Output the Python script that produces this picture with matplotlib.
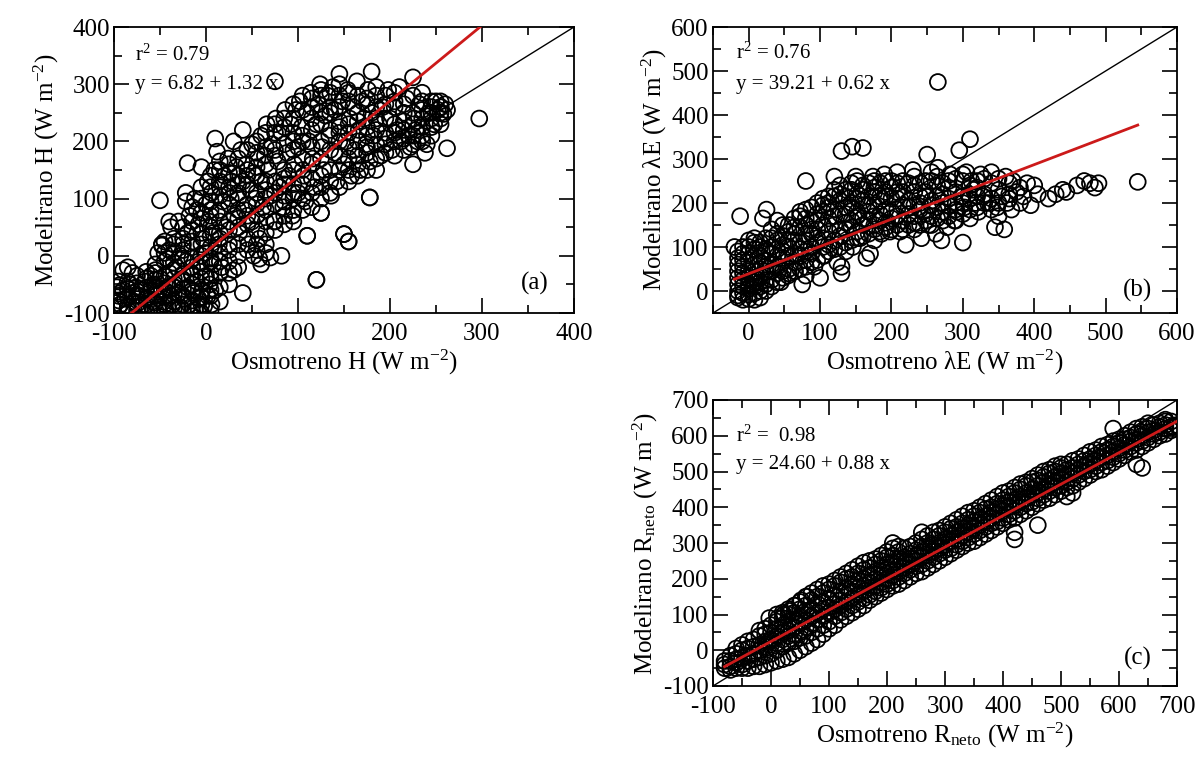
import matplotlib
matplotlib.use("Agg")
import matplotlib.pyplot as plt
from matplotlib.ticker import MultipleLocator

plt.rcParams['font.family'] = ['Liberation Serif', 'DejaVu Serif']
plt.rcParams['mathtext.fontset'] = 'custom'
plt.rcParams['mathtext.rm'] = 'Liberation Serif'
plt.rcParams['mathtext.it'] = 'Liberation Serif:italic'
plt.rcParams['mathtext.bf'] = 'Liberation Serif:bold'
plt.rcParams['axes.unicode_minus'] = False

# ---------------- Panel (a): sensible heat H ----------------
h_pts = [
 (-97,-55),(-95,-70),(-93,-85),(-90,-60),(-88,-75),(-85,-95),(-83,-50),(-80,-65),(-78,-80),(-76,-55),
 (-74,-90),(-72,-70),(-70,-60),(-68,-85),(-66,-45),(-64,-75),(-62,-95),(-60,-60),(-58,-80),(-56,-50),
 (-54,-70),(-52,-90),(-50,-40),(-48,-60),(-46,-80),(-44,-95),(-42,-55),(-40,-30),(-38,-70),(-36,-85),
 (-34,-50),(-32,-20),(-30,-65),(-28,-90),(-26,-40),(-24,-75),(-22,-10),(-20,-55),(-18,-85),(-16,-30),
 (-14,-65),(-12,-95),(-10,-45),(-8,-75),(-6,-20),(-4,-60),(-2,-88),(0,-35),(2,-70),(4,-50),(6,-85),
 (8,-15),(10,-60),(-85,-20),(-90,-25),(-80,-30),(-95,-45),(-60,-35),(-55,-25),(-52,5),(-48,18),
 (-45,25),(-40,10),(-42,-5),(-35,30),(-38,50),(-30,60),(-25,20),(-28,0),(-20,40),(-18,70),(-22,95),
 (-15,15),(-12,100),(-10,80),(-8,55),(-5,120),(-3,30),(0,90),(2,130),(-1,5),(3,60),(5,-10),(6,110),
 (8,40),(9,150),(12,75),(14,20),(15,120),(17,-20),(18,95),(20,140),(22,50),(24,170),(25,10),(27,100),
 (28,130),(30,-25),(31,70),(33,155),(35,110),(36,40),(38,185),(40,130),(40,-65),(42,80),(44,160),
 (46,20),(48,115),(50,195),(50,60),(52,145),(54,100),(56,170),(58,-5),(58,30),(60,210),(60,130),
 (62,85),(64,175),(65,5),(66,230),(68,150),(70,105),(70,-3),(72,195),(74,60),(75,305),(76,240),
 (78,165),(80,120),(82,0),(82,215),(84,85),(86,255),(88,180),(90,140),(92,230),(94,70),(95,200),
 (96,160),(98,255),(100,110),(100,190),(102,270),(104,225),(106,140),(108,95),(110,35),(110,250),
 (112,200),(114,285),(116,170),(118,120),(120,230),(120,-42),(122,265),(124,300),(125,75),(126,190),
 (128,150),(130,245),(132,280),(134,210),(136,105),(138,295),(140,180),(140,255),(142,130),(145,318),
 (145,225),(148,270),(150,38),(150,160),(152,200),(154,290),(155,25),(156,240),(158,140),(160,260),
 (162,185),(164,305),(166,220),(168,150),(170,270),(172,240),(174,195),(176,290),(178,102),(178,165),
 (180,322),(180,250),(182,210),(185,280),(188,230),(190,175),(192,260),(195,205),(198,290),(200,240),
 (202,185),(205,270),(208,220),(210,295),(212,200),(215,250),(218,275),(220,210),(222,190),(225,160),
 (225,312),(226,240),(228,220),(230,200),(232,265),(235,285),(238,180),(240,195),(242,250),(245,270),
 (248,230),(250,270),(252,255),(255,260),(258,248),(260,265),(262,188),(262,255),(297,240),
 (-50,97),(-20,162),(10,205),(12,182),(-5,155),(-22,110),(40,220),(30,200),(-40,60),(-48,20),
 (52,0),(55,10),(60,-15),(65,20),(110,35),(150,38),(155,25),(120,-42),(178,102),(125,75),
]
# dense interior of the H cloud, read column by column (observed x: list of modelled y)
h_cols = {
 -95: [-90,-78,-66,-52], -85: [-100,-88,-72,-58,-45], -75: [-96,-84,-70,-62,-48,-35],
 -65: [-98,-86,-74,-56,-40,-28], -55: [-95,-82,-68,-55,-42,-30,-15],
 -45: [-98,-85,-72,-60,-48,-35,-10,5], -35: [-92,-80,-68,-55,-40,-25,-12,5,20],
 -25: [-95,-85,-70,-58,-45,-32,-5,10,30,50],
 -15: [-98,-88,-78,-60,-50,-35,-20,-5,25,45,60,85],
 -5: [-100,-85,-72,-62,-40,-28,-12,0,20,40,65,75,100],
 5: [-95,-70,-60,-40,-30,-5,15,35,50,70,80,95,120,140],
 15: [-80,-55,-30,-10,5,30,40,60,80,105,130,150,165],
 25: [-50,-30,-10,20,45,60,90,110,120,145,160],
 35: [-20,0,20,50,65,80,100,125,140,170], 45: [10,30,55,70,90,125,140,150,185],
 55: [20,45,70,90,110,140,155,180,200], 65: [40,60,80,100,115,130,160,190,215],
 75: [45,60,90,110,130,175,185,215,230], 85: [55,70,95,105,125,135,150,195,225,240],
 95: [60,80,100,110,125,150,185,215,240,265], 105: [80,100,125,150,170,200,210,255,280],
 115: [85,110,135,160,190,220,240,260,275], 125: [100,120,140,170,200,230,250,280,290],
 135: [110,130,150,185,220,250,260,285], 145: [120,150,175,200,215,235,260,280,300],
 155: [130,150,170,190,215,230,270,285], 165: [140,160,175,200,235,250,280],
 175: [150,180,190,210,225,265,275], 185: [150,170,195,220,240,260,295],
 195: [180,195,215,240,265,280], 205: [175,200,215,230,260,285], 215: [185,205,220,235,265],
 225: [195,210,230,250,280], 235: [200,210,225,240,255,270], 245: [210,225,240,250,260],
 255: [230,240,250,260,270],
}
H_obs = [p[0] for p in h_pts] + [x for x, ys in h_cols.items() for _ in ys]
H_mod = [p[1] for p in h_pts] + [y for x, ys in h_cols.items() for y in ys]

# ---------------- Panel (b): latent heat lambda E ----------------
le_pts = [
 (-12,170),(20,165),(25,185),(80,250),(120,260),(130,318),(145,328),(160,325),(250,310),(265,475),
 (295,320),(310,345),(300,110),(270,115),(345,145),(358,140),(100,30),(130,40),(130,55),(75,15),
 (165,75),(170,85),(-20,100),(-15,-10),(220,105),(242,120),(262,130),(150,260),(174,260),(190,265),
 (208,270),(230,275),(265,280),(282,265),(305,270),(325,265),(340,270),(360,260),(370,250),(380,235),
 (390,245),(395,195),(400,240),(405,220),(420,210),(430,220),(440,230),(445,225),(460,240),(470,250),
 (478,245),(485,235),(490,245),(545,248),(350,170),(322,180),(310,165),(380,200),(385,215),(375,225),
 (362,200),(368,185),(355,215),(348,190),(335,200),(328,215),(318,200),(315,230),(312,250),(308,220),
 (302,190),(298,215),(292,180),(288,160),(278,145),(252,150),(232,140),(212,135),(198,135),(186,130),
 (176,115),(156,120),(146,100),(136,90),(124,65),(106,80),(92,55),(65,45),(55,35),(45,20),(80,35),
]
le_cols = {
 -15: [-15,0,15,30,45,60,75,90], -8: [-20,-5,10,25,40,55,70,85,100],
 0: [-18,-8,5,15,30,45,70,85,100,115], 8: [-20,-5,10,20,30,45,60,80,95,110,120],
 16: [-15,0,10,20,35,50,65,80,100,110], 24: [0,15,25,45,55,70,90,95,120],
 32: [10,25,45,60,85,100,120,140], 40: [20,40,55,80,95,115,130,160],
 48: [30,45,75,90,105,125,150], 56: [40,50,80,100,115,135,150],
 64: [45,65,85,115,130,145,165], 72: [50,80,95,110,145,170,180],
 80: [55,70,90,115,130,150,165,185], 88: [65,85,100,130,140,160,190],
 96: [70,110,120,140,160,175,200], 104: [80,100,120,150,180,195,210],
 112: [90,105,135,165,190,200,215], 120: [95,115,150,170,185,215,230],
 128: [100,125,140,175,205,220,240], 136: [110,140,155,175,190,215,230],
 144: [115,145,160,190,200,230,245], 152: [120,135,170,180,210,220,250],
 160: [125,150,165,195,205,230,240], 168: [130,160,180,195,215,245],
 176: [140,150,170,195,225,235,250], 184: [135,160,175,205,215,245],
 192: [145,155,185,215,225,250], 200: [140,165,180,210,235,250],
 208: [150,170,185,210,225,245], 216: [140,160,195,225,250],
 224: [150,175,190,205,245], 232: [155,170,195,225,240,260],
 240: [150,185,200,215,245], 248: [160,175,215,225,250],
 256: [150,170,195,205,250,270], 264: [165,190,215,240,260],
 272: [160,180,200,220,245], 280: [170,195,210,235,250],
 290: [160,185,200,225,255], 300: [175,200,215,250,265], 310: [185,210,240],
 320: [190,215,235,250], 330: [200,220,255], 340: [185,210,245], 350: [200,230,255],
 365: [210,220,245],
}
LE_obs = [p[0] for p in le_pts] + [x for x, ys in le_cols.items() for _ in ys]
LE_mod = [p[1] for p in le_pts] + [y for x, ys in le_cols.items() for y in ys]

# ---------------- Panel (c): net radiation ----------------
rn_pts = [
 (590,620),(630,520),(640,510),(460,350),(420,330),(420,310),(510,430),(520,440),(260,330),(210,300),
 (680,640),(700,630),(695,625),(-3,90),(12,90),(22,100),(32,110),(42,125),(52,140),(62,150),
]
rn_cols = {
 -80: [-50,-40,-30], -70: [-55,-45,-30,-15], -60: [-50,-35,-25,-10,5],
 -50: [-50,-40,-20,0,15], -40: [-50,-30,-15,5,25], -30: [-45,-25,-10,10,30],
 -20: [-45,-20,0,15,40,55], -10: [-40,-15,10,25,45,60], 0: [-35,-10,15,30,50,70],
 10: [-30,0,20,40,60,80,100], 20: [-25,10,30,50,70,90,105], 30: [-20,20,40,55,80,100,115],
 40: [-10,25,45,65,85,105,125], 50: [0,35,55,75,95,115,135], 60: [10,40,65,85,110,125,150],
 70: [20,50,75,95,115,140,160], 80: [30,60,85,105,130,150,170], 90: [45,70,95,115,135,160,180],
 100: [60,80,105,120,145,170,185], 110: [70,95,115,130,155,180,195],
 120: [85,105,125,140,165,190,205], 130: [95,115,135,155,175,200,215],
 140: [105,125,145,165,185,205,225], 150: [115,135,155,175,195,215,235],
 160: [125,145,165,180,200,225,245], 170: [140,155,175,190,210,230,250],
 180: [150,165,180,200,220,240,255], 190: [160,175,190,210,230,250,265],
 200: [170,185,200,215,240,260,275], 210: [180,195,210,225,245,265,285],
 220: [185,205,220,235,255,275,290], 230: [195,215,230,245,260,285],
 240: [205,225,240,255,270,290], 250: [215,235,250,265,280,300],
 260: [220,240,260,275,290,310], 270: [230,250,265,285,300,320],
 280: [240,260,275,295,310,330], 290: [250,270,285,300,320,335],
 300: [260,280,295,310,330,345], 310: [270,285,305,320,340,355],
 320: [280,295,310,330,345,365], 330: [290,305,320,340,355,375],
 340: [300,315,330,350,365,385], 350: [305,325,340,360,375,390],
 360: [315,335,350,365,385,400], 370: [325,345,360,375,395,410],
 380: [335,355,370,385,400,420], 390: [345,360,380,395,410,430],
 400: [355,370,390,405,420,440], 410: [365,380,400,415,430,445],
 420: [370,390,405,420,440,455], 430: [380,400,415,430,450,465],
 440: [390,410,425,440,460,470], 450: [400,415,435,450,470,480],
 460: [410,425,440,460,475,490], 470: [420,435,450,470,485,500],
 480: [425,445,460,475,495,505], 490: [435,455,470,485,500,515],
 500: [445,460,480,495,510,520], 510: [455,470,490,505,520], 520: [460,480,495,510,530],
 530: [470,490,505,520,535], 540: [480,500,515,530,545], 550: [490,505,520,535,555],
 560: [500,515,530,545,560], 570: [505,525,540,555,570], 580: [515,530,545,560,575],
 590: [525,540,555,570,585], 600: [535,550,565,580,590], 610: [545,560,575,590,600],
 620: [555,570,585,595,610], 630: [560,580,590,605,620], 640: [570,585,600,610,625],
 650: [580,595,610,620,635], 660: [590,605,615,630], 670: [600,610,625,635],
 680: [605,620,630,645], 690: [615,625,640],
}
Rn_obs = [p[0] for p in rn_pts] + [x for x, ys in rn_cols.items() for _ in ys]
Rn_mod = [p[1] for p in rn_pts] + [y for x, ys in rn_cols.items() for y in ys]

# regression lines (intercept, slope) as printed on the chart
fit_a = (6.82, 1.32)
fit_b = (39.21, 0.62)
fit_c = (24.60, 0.88)

W, H = 1195, 765
fig = plt.figure(figsize=(W / 100, H / 100), dpi=100)

def make_ax(l, t, r, b):
    return fig.add_axes([l / W, 1 - b / H, (r - l) / W, (b - t) / H])

ax_a = make_ax(114, 27, 574, 313)
ax_b = make_ax(713, 27, 1177, 313)
ax_c = make_ax(713, 400, 1177, 686)

FS = 18
SMALL = 15

def style(ax, xlim, ylim, xmaj, ymaj):
    ax.set_xlim(*xlim)
    ax.set_ylim(*ylim)
    ax.xaxis.set_major_locator(MultipleLocator(xmaj))
    ax.xaxis.set_minor_locator(MultipleLocator(xmaj / 2))
    ax.yaxis.set_major_locator(MultipleLocator(ymaj))
    ax.yaxis.set_minor_locator(MultipleLocator(ymaj / 2))
    ax.tick_params(which='both', direction='in', top=True, right=True, width=1.2, labelsize=FS)
    ax.tick_params(which='major', length=11)
    ax.tick_params(which='minor', length=6)
    ax.tick_params(axis='x', which='major', pad=7)
    ax.tick_params(axis='y', which='major', pad=3)
    for s in ax.spines.values():
        s.set_linewidth(1.3)

def panel(ax, xs, ys, fit, xfit, lim_line, letter, r2, eq, r2pos, eqpos, lpos):
    ax.scatter(xs, ys, s=130, facecolors='none', edgecolors='black', linewidths=1.3, zorder=2)
    ax.plot(lim_line, lim_line, color='black', lw=1.0, zorder=3)
    a, b = fit
    ax.plot(xfit, [a + b * x for x in xfit], color='#cc1a1a', lw=2.0, zorder=4)
    ax.text(*r2pos, r2, transform=ax.transAxes, fontsize=SMALL, va='center', ha='left', zorder=5)
    ax.text(*eqpos, eq, transform=ax.transAxes, fontsize=SMALL, va='center', ha='left', zorder=5)
    ax.text(*lpos, letter, transform=ax.transAxes, fontsize=FS, va='center', ha='center', zorder=5)

style(ax_a, (-100, 400), (-100, 400), 100, 100)
panel(ax_a, H_obs, H_mod, fit_a, [-100, 300], [-100, 400], '(a)',
      r'r$^2$ = 0.79', 'y = 6.82 + 1.32 x', (0.045, 0.90), (0.045, 0.80), (0.915, 0.105))
ax_a.set_xlabel(r'Osmotreno H (W m$^{-2}$)', fontsize=FS, labelpad=2)
ax_a.set_ylabel(r'Modelirano H (W m$^{-2}$)', fontsize=FS, labelpad=2)

style(ax_b, (-50, 600), (-50, 600), 100, 100)
panel(ax_b, LE_obs, LE_mod, fit_b, [-20, 545], [-50, 600], '(b)',
      r'r$^2$ = 0.76', 'y = 39.21 + 0.62 x', (0.05, 0.91), (0.05, 0.80), (0.915, 0.08))
ax_b.set_xlabel(r'Osmotreno λE (W m$^{-2}$)', fontsize=FS, labelpad=2)
ax_b.set_ylabel(r'Modelirano λE (W m$^{-2}$)', fontsize=FS, labelpad=2)

style(ax_c, (-100, 700), (-100, 700), 100, 100)
panel(ax_c, Rn_obs, Rn_mod, fit_c, [-80, 700], [-100, 700], '(c)',
      r'r$^2$ =  0.98', 'y = 24.60 + 0.88 x', (0.05, 0.875), (0.05, 0.775), (0.915, 0.098))
ax_c.set_xlabel(r'Osmotreno R$_{\mathrm{neto}}$ (W m$^{-2}$)', fontsize=FS, labelpad=2)
ax_c.set_ylabel(r'Modelirano R$_{\mathrm{neto}}$ (W m$^{-2}$)', fontsize=FS, labelpad=2)

fig.savefig('out.png', dpi=100)
